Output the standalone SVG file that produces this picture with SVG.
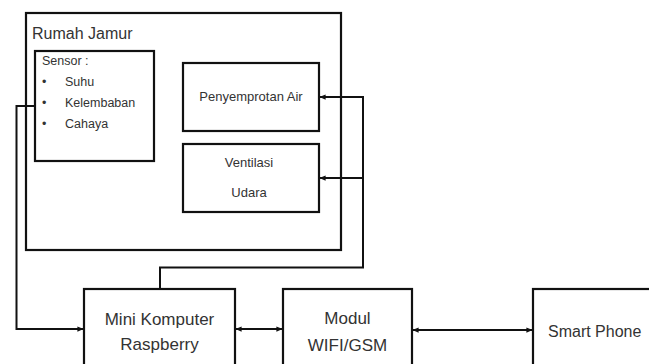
<svg xmlns="http://www.w3.org/2000/svg" width="649" height="364" viewBox="0 0 649 364">
<defs>
<style>
.box{fill:#fff;stroke:#111;stroke-width:2.2}
.cn{fill:none;stroke:#111;stroke-width:2}
text{font-family:"Liberation Sans",Arial,sans-serif;fill:#333}
.big{font-size:17px}
.sm{font-size:12.5px}
.md{font-size:13px}
</style>
<marker id="ah" viewBox="0 0 8 8" refX="7.5" refY="4" markerWidth="6" markerHeight="6" markerUnits="userSpaceOnUse" orient="auto-start-reverse">
<path d="M0,0.5 L8,4 L0,7.5 Z" fill="#111"/>
</marker>
</defs>
<rect width="649" height="364" fill="#fff"/>
<g id="rumah-jamur">
<rect class="box" x="26" y="13" width="315" height="237"/>
<text x="32" y="39" style="font-size:16px">Rumah Jamur</text>
</g>
<g id="sensor">
<rect class="box" x="35" y="51" width="119" height="110"/>
<text class="sm" x="42" y="65">Sensor :</text>
<text class="sm" x="42" y="86">•</text>
<text class="sm" x="65" y="86">Suhu</text>
<text class="sm" x="42" y="107">•</text>
<text class="sm" x="65" y="107">Kelembaban</text>
<text class="sm" x="42" y="128">•</text>
<text class="sm" x="65" y="128">Cahaya</text>
</g>
<g id="penyemprotan">
<rect class="box" x="183" y="63" width="136" height="68"/>
<text class="md" x="251" y="101" text-anchor="middle">Penyemprotan Air</text>
</g>
<g id="ventilasi">
<rect class="box" x="183" y="144" width="136" height="68"/>
<text class="md" x="249" y="167" text-anchor="middle">Ventilasi</text>
<text class="md" x="249" y="197" text-anchor="middle">Udara</text>
</g>
<g id="mini-komputer">
<rect class="box" x="84" y="289" width="151" height="90"/>
<text class="big" x="159.5" y="325" text-anchor="middle">Mini Komputer</text>
<text class="big" x="159.5" y="350" text-anchor="middle">Raspberry</text>
</g>
<g id="modul">
<rect class="box" x="283" y="289" width="129" height="90"/>
<text class="big" x="347.5" y="324" text-anchor="middle">Modul</text>
<text class="big" x="347.5" y="351" text-anchor="middle">WIFI/GSM</text>
</g>
<g id="smart-phone">
<rect class="box" x="533" y="289" width="130" height="90"/>
<text x="548" y="337" style="font-size:16px">Smart Phone</text>
</g>
<g id="connectors">
<path class="cn" d="M35,106 H16.5 V329 H83" marker-end="url(#ah)"/>
<path class="cn" d="M160,289 V267.5 H363 V97 H320" marker-end="url(#ah)"/>
<path class="cn" d="M363,178 H320" marker-end="url(#ah)"/>
<path class="cn" d="M236,329 H282" marker-start="url(#ah)" marker-end="url(#ah)"/>
<path class="cn" d="M413,330 H532" marker-start="url(#ah)" marker-end="url(#ah)"/>
</g>
</svg>
